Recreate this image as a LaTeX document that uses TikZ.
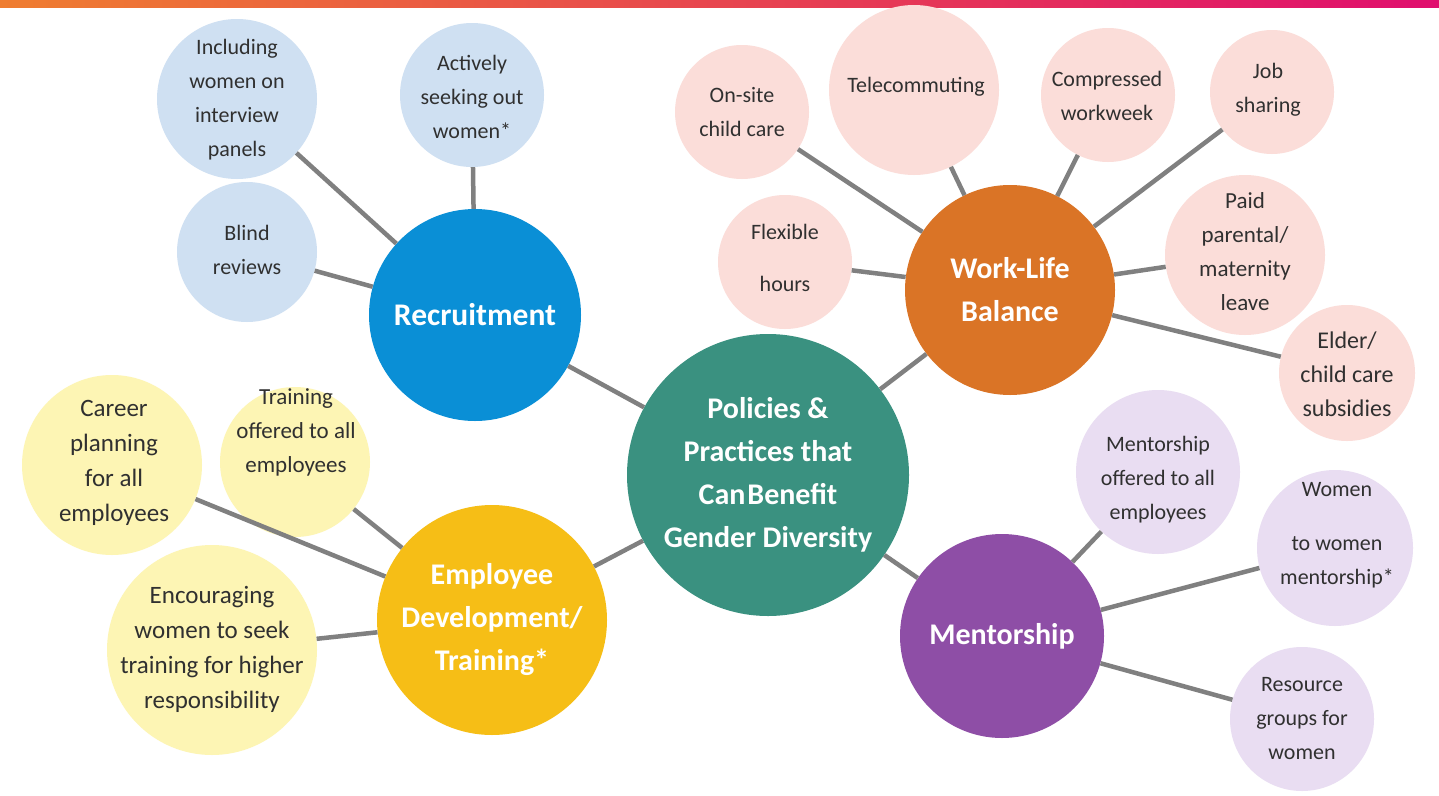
\documentclass[tikz,border=0pt]{standalone}
\usepackage{fontspec}
\setmainfont{Carlito}
\definecolor{barL}{RGB}{239,125,48}
\definecolor{barM}{RGB}{232,66,76}
\definecolor{barR}{RGB}{224,14,110}
\definecolor{cTeal}{RGB}{58,145,128}
\definecolor{cBlue}{RGB}{10,143,214}
\definecolor{cOrange}{RGB}{218,116,38}
\definecolor{cYellow}{RGB}{246,190,22}
\definecolor{cPurple}{RGB}{142,78,166}
\definecolor{lBlue}{RGB}{207,224,242}
\definecolor{lPink}{RGB}{251,221,217}
\definecolor{lYellow}{RGB}{253,245,180}
\definecolor{lPurple}{RGB}{233,221,242}
\definecolor{txtGray}{RGB}{48,48,48}
\definecolor{lineGray}{RGB}{128,128,128}
\begin{document}
\begin{tikzpicture}[x=1pt,y=-1pt,
  hub/.style={circle, inner sep=0pt, text=white, align=center,
    font=\bfseries\fontsize{30}{43}\selectfont},
  leaf/.style={circle, inner sep=0pt},
  txt/.style={align=center, text=txtGray, inner sep=0pt,
    font=\fontsize{22}{34}\selectfont},
  bigtxt/.style={txt, font=\fontsize{25}{35}\selectfont},
  link/.style={draw=lineGray, line width=4.5pt}]
\useasboundingbox (0,0) rectangle (1439,795);
\fill[white] (0,0) rectangle (1439,795);
\shade[left color=barL, middle color=barM, right color=barR] (0,0) rectangle (1439,7);

% hubs
\node[hub, fill=cTeal, minimum size=282pt] (C) at (768,475)
  {Policies \&\\Practices that\\{Can\hspace{2pt}Benefit}\\Gender Diversity};
\node[hub, fill=cBlue, minimum size=212pt, font=\bfseries\fontsize{31.5}{43}\selectfont] (R) at (475,315) {Recruitment};
\node[hub, fill=cOrange, minimum size=210pt] (W) at (1010,290)
  {\fontsize{30}{45}\selectfont Work-Life\\Balance};
\node[hub, fill=cYellow, minimum size=230pt] (E) at (492,620)
  {\fontsize{30}{42}\selectfont Employee\\Development/\\Training*};
\node[hub, fill=cPurple, minimum size=204pt] (M) at (1002,636) {Mentorship};

% recruitment leaves
\node[leaf, fill=lBlue, minimum size=160pt] (R1) at (237,99) {};
\node[leaf, fill=lBlue, minimum size=144pt] (R2) at (472,95) {};
\node[leaf, fill=lBlue, minimum size=140pt] (R3) at (247,252) {};
% work-life leaves
\node[leaf, fill=lPink, minimum size=134pt] (W1) at (742,112) {};
\node[leaf, fill=lPink, minimum size=170pt] (W2) at (914,90) {};
\node[leaf, fill=lPink, minimum size=134pt] (W3) at (1108,95) {};
\node[leaf, fill=lPink, minimum size=124pt] (W4) at (1272,92) {};
\node[leaf, fill=lPink, minimum size=134pt] (W5) at (785,262) {};
\node[leaf, fill=lPink, minimum size=160pt] (W6) at (1245,255) {};
\node[leaf, fill=lPink, minimum size=136pt] (W7) at (1347,373) {};
% employee development leaves
\node[leaf, fill=lYellow, minimum size=180pt] (E1) at (112,465) {};
\node[leaf, fill=lYellow, minimum size=150pt] (E2) at (295,462) {};
\node[leaf, fill=lYellow, minimum size=210pt] (E3) at (212,650) {};
% mentorship leaves
\node[leaf, fill=lPurple, minimum size=164pt] (M1) at (1158,472) {};
\node[leaf, fill=lPurple, minimum size=156pt] (M2) at (1335,548) {};
\node[leaf, fill=lPurple, minimum size=144pt] (M3) at (1302,719) {};

% connectors
\draw[link] (C) -- (R);
\draw[link] (C) -- (W);
\draw[link] (C) -- (E);
\draw[link] (C) -- (M);
\draw[link] (R) -- (R1);
\draw[link] (R) -- (R2);
\draw[link] (R) -- (R3);
\draw[link] (W) -- (W1);
\draw[link] (W) -- (W2);
\draw[link] (W) -- (W3);
\draw[link] (W) -- (W4);
\draw[link] (W) -- (W5);
\draw[link] (W) -- (W6);
\draw[link] (W) -- (W7);
\draw[link] (E) -- (E1);
\draw[link] (E) -- (E2);
\draw[link] (E) -- (E3);
\draw[link] (M) -- (M1);
\draw[link] (M) -- (M2);
\draw[link] (M) -- (M3);

% leaf texts
\node[txt] (tR1) at (237,100) {Including\\women on\\interview\\panels};
\node[txt] (tR2) at (472,97) {Actively\\seeking out\\women*};
\node[txt] (tR3) at (247,250) {Blind\\reviews};
\node[txt] (tW1) at (742,112) {On-site\\child care};
\node[txt] (tW2) at (916,87) {Telecommuting};
\node[txt] (tW3) at (1107,96) {Compressed\\workweek};
\node[txt] (tW4) at (1268,90) {Job\\sharing};
\node[txt] (tW5) at (785,258) {Flexible\\[18pt]hours};
\node[txt, font=\fontsize{23}{34}\selectfont] (tW6) at (1245,252) {Paid\\parental/\\maternity\\leave};
\node[txt, font=\fontsize{24}{34}\selectfont] (tW7) at (1347,374) {Elder/\\child care\\subsidies};
\node[bigtxt] (tE1) at (114,463) {Career\\planning\\for all\\employees};
\node[txt, font=\fontsize{23}{34}\selectfont] (tE2) at (296,432) {Training\\offered to all\\employees};
\node[bigtxt] (tE3) at (212,649) {Encouraging\\women to seek\\training for higher\\responsibility};
\node[txt] (tM1) at (1158,480) {Mentorship\\offered to all\\employees};
\node[txt] (tM2) at (1337,535) {Women\\[20pt]to women\\mentorship*};
\node[txt] (tM3) at (1302,719) {Resource\\groups for\\women};
\end{tikzpicture}
\end{document}
